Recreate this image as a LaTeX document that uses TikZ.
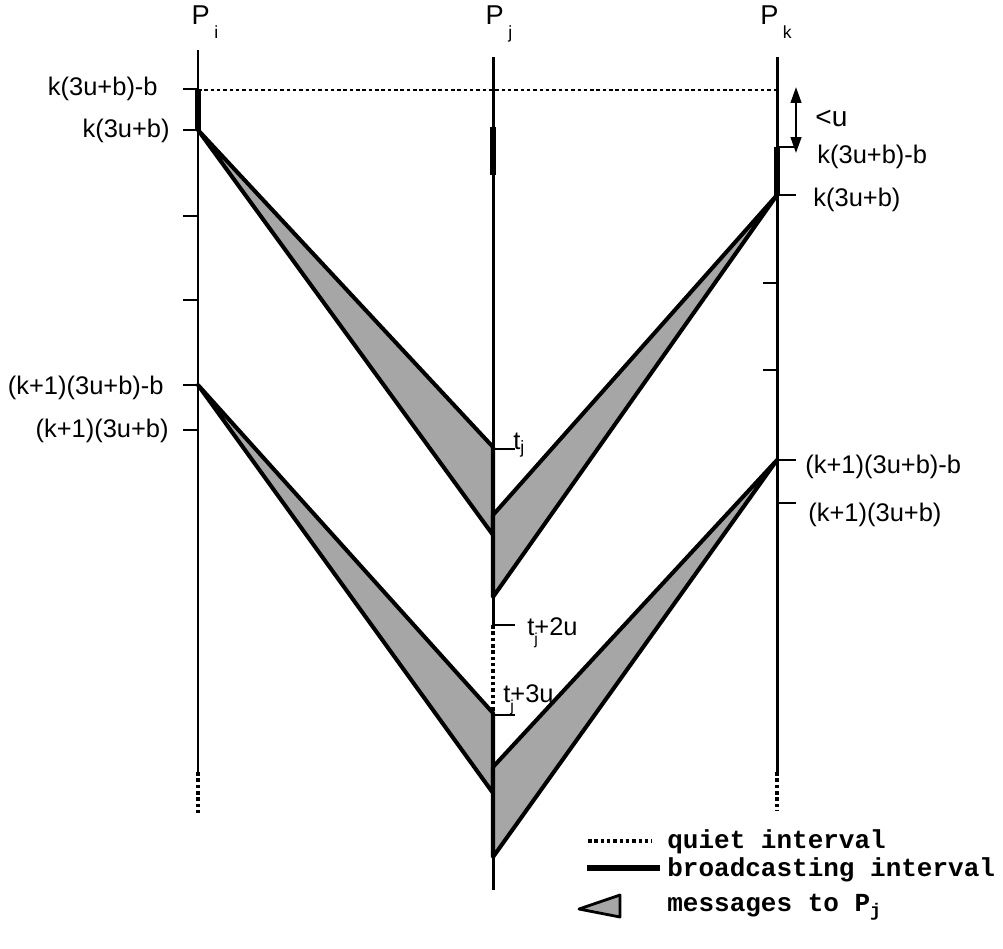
\documentclass[tikz,border=0pt]{standalone}
\usepackage{fontspec}
\setmainfont{Liberation Sans}
\newfontfamily\legendfont{Liberation Mono}
\usepackage{tikz}
\usetikzlibrary{arrows.meta, positioning}

\newcommand{\lbl}{\fontsize{14.5}{17}\selectfont}
\newcommand{\plbl}{\fontsize{15.5}{18}\selectfont}
\newcommand{\lgd}{\legendfont\bfseries\fontsize{14.8}{17}\selectfont}
\newcommand{\subj}{\rlap{\raisebox{-0.7ex}{\fontsize{9}{10}\selectfont j}}}
\newcommand{\psub}[1]{\,\raisebox{-1.0ex}{\fontsize{10}{11}\selectfont #1}}

\begin{document}
\begin{tikzpicture}[
  x=0.02cm, y=-0.02cm,
  font=\lbl,
  proc/.style={line width=1.7pt},
  bcast/.style={line width=3.6pt},
  quiet/.style={line width=1.8pt, dash pattern=on 2pt off 1.6pt},
  tickmark/.style={line width=1.4pt},
  msg/.style={draw, line width=2.3pt, fill=black!35, line join=round},
  lab/.style={inner sep=0pt, font=\lbl},
  plab/.style={inner sep=0pt, font=\plbl},
  lgdlab/.style={inner sep=0pt, anchor=west, font=\lgd},
  arr/.style={{Triangle[length=9pt,width=6pt]}-{Triangle[length=9pt,width=6pt]}, line width=1.3pt}
]
\useasboundingbox (0,0) rectangle (1003,948);
%% process names
\node[plab] (p_i) at (205,22) {P\psub{i}};
\node[plab] (p_j) at (499,24) {P\psub{j}};
\node[plab] (p_k) at (776,22) {P\psub{k}};
%% phantom coords
\coordinate (pi_top) at (198,50);
\coordinate (pi_bot) at (198,772);
\coordinate (pi_end) at (198,815);
\coordinate (pj_top) at (493,57);
\coordinate (pj_q1)  at (493,625);
\coordinate (pj_q2)  at (493,715);
\coordinate (pj_bot) at (493,890);
\coordinate (pk_top) at (777,57);
\coordinate (pk_bot) at (777,772);
\coordinate (pk_end) at (777,810);
%% messages to P_j
\coordinate (m1_s) at (198,130);  \coordinate (m1_t) at (493,447); \coordinate (m1_b) at (493,535);
\coordinate (m2_s) at (777,195);  \coordinate (m2_t) at (493,515); \coordinate (m2_b) at (493,597);
\coordinate (m3_s) at (198,385);  \coordinate (m3_t) at (493,713); \coordinate (m3_b) at (493,793);
\coordinate (m4_s) at (777,460);  \coordinate (m4_t) at (493,767); \coordinate (m4_b) at (493,857);
\draw[msg] (m1_s) -- (m1_t) -- (m1_b) -- cycle;
\draw[msg] (m2_s) -- (m2_t) -- (m2_b) -- cycle;
\draw[msg] (m3_s) -- (m3_t) -- (m3_b) -- cycle;
\draw[msg] (m4_s) -- (m4_t) -- (m4_b) -- cycle;
%% time lines
\draw[proc]  (pi_top) -- (pi_bot);
\draw[quiet] (pi_bot) -- (pi_end);
\draw[proc]  (pj_top) -- (pj_q1);
\draw[quiet] (pj_q1)  -- (pj_q2);
\draw[proc]  (pj_q2)  -- (pj_bot);
\draw[proc]  (pk_top) -- (pk_bot);
\draw[quiet] (pk_bot) -- (pk_end);
%% broadcasting intervals
\draw[bcast] (198,89)  -- (m1_s);
\draw[bcast] (493,127) -- (493,175);
\draw[bcast] (777,147) -- (m2_s);
%% quiet line across
\draw[quiet, line width=1.5pt] (198,90) -- (777,90);
%% ticks
\foreach \y in {89,130,216,300,385,430} \draw[tickmark] (183,\y) -- (198,\y);
\foreach \y in {283,370} \draw[tickmark] (763,\y) -- (777,\y);
\foreach \y in {147,195,460,503} \draw[tickmark] (777,\y) -- (796,\y);
\foreach \y in {449,625,715} \draw[tickmark] (493,\y) -- (515,\y);
%% labels P_i
\node[lab, anchor=east] (li_1) at (158,89)  {k(3u+b)-b};
\node[lab, anchor=east] (li_2) at (170,131) {k(3u+b)};
\node[lab, anchor=east] (li_3) at (164,388) {(k+1)(3u+b)-b};
\node[lab, anchor=east] (li_4) at (169,431) {(k+1)(3u+b)};
%% labels P_k
\node[lab, anchor=west] (lk_1) at (817,157) {k(3u+b)-b};
\node[lab, anchor=west] (lk_2) at (813,200) {k(3u+b)};
\node[lab, anchor=west] (lk_3) at (805,467) {(k+1)(3u+b)-b};
\node[lab, anchor=west] (lk_4) at (808,515) {(k+1)(3u+b)};
\coordinate (u_top) at (796,87);
\coordinate (u_bot) at (796,153);
\draw[arr] (u_top) -- (u_bot);
\node[lab, anchor=west, font=\fontsize{16}{18}\selectfont] (lu) at (815,118) {<u};
%% labels P_j
\node[lab, anchor=west] (lt_1) at (513,445) {t\textsubscript{j}};
\node[lab, anchor=west] (lt_2) at (527,633) {t\subj+2u};
\node[lab, anchor=west] (lt_3) at (503,700) {t\subj+3u};
%% legend
\coordinate (lq_a) at (588,841); \coordinate (lq_b) at (652,841);
\coordinate (lb_a) at (587,868); \coordinate (lb_b) at (660,868);
\draw[quiet] (lq_a) -- (lq_b);
\draw[bcast] (lb_a) -- (lb_b);
\draw[msg, line width=1.6pt] (579,909) -- (620,895) -- (620,917) -- cycle;
\node[lgdlab] (lg_q) at (667,842) {quiet interval};
\node[lgdlab] (lg_b) at (667,870) {broadcasting interval};
\node[lgdlab] (lg_m) at (667,907) {messages to P\textsubscript{j}};
\end{tikzpicture}
\end{document}
